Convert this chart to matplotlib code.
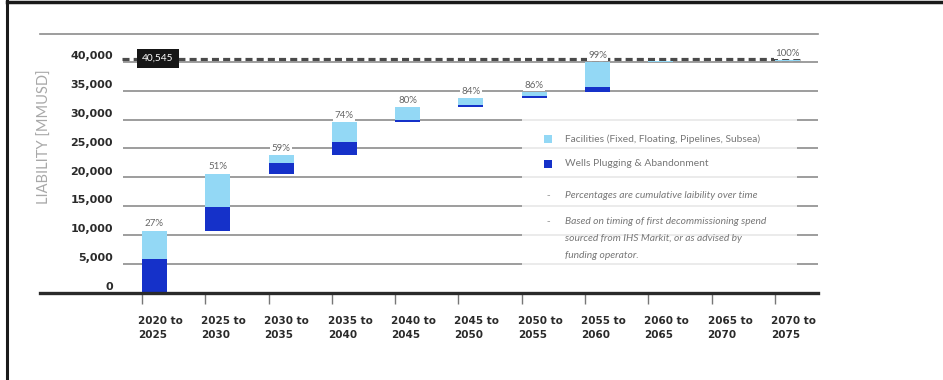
import matplotlib

matplotlib.use("Agg")
import matplotlib.pyplot as plt
from matplotlib.lines import Line2D
from matplotlib.patches import Rectangle
from matplotlib.transforms import blended_transform_factory

# dados (MMUSD)
periods = ["2020 to\n2025", "2025 to\n2030", "2030 to\n2035", "2035 to\n2040",
           "2040 to\n2045", "2045 to\n2050", "2050 to\n2055", "2055 to\n2060",
           "2060 to\n2065", "2065 to\n2070", "2070 to\n2075"]
wells = [5800, 4050, 1850, 2300, 400, 500, 500, 900, 0, 0, 0]
facilities = [4950, 5800, 1400, 3400, 2150, 1050, 550, 4300, 150, 0, 200]
pct_labels = ["27%", "51%", "59%", "74%", "80%", "84%", "86%", "99%", "", "", "100%"]
total = 40545
yticks = [0, 5000, 10000, 15000, 20000, 25000, 30000, 35000, 40000]
note_lines = ["Based on timing of first decommissioning spend",
              "sourced from IHS Markit, or as advised by",
              "funding operator."]

LIGHT = "#93d8f5"
DARK = "#1531c9"
GRID = "#8c8c8c"

W, H = 943, 380
fig = plt.figure(figsize=(W / 100, H / 100), dpi=100)
fig.patch.set_facecolor("white")

# moldura (recorte da página)
fig.add_artist(Line2D([7.5 / W, 7.5 / W], [0, 1], color="#1a1a1a", lw=2.2))
fig.add_artist(Line2D([7.5 / W, 1], [1 - 1.5 / H, 1 - 1.5 / H], color="#1a1a1a", lw=2.5))

ax = fig.add_axes([40 / W, 87 / H, 778 / W, 259 / H])
ax.set_xlim(-1.611, 10.68)
ax.set_ylim(0, 44800)

for s in ("left", "right"):
    ax.spines[s].set_visible(False)
ax.spines["top"].set_color(GRID)
ax.spines["top"].set_linewidth(1.2)
ax.spines["bottom"].set_color("#2a2a2a")
ax.spines["bottom"].set_linewidth(2.4)
ax.spines["bottom"].set_zorder(6)

# grade
ax.hlines(yticks[1:], -0.30, 10.68, color=GRID, lw=1.2, zorder=1)

# barras em cascata
width = 0.395
x = list(range(len(periods)))
base = 0
tops = []
for i in x:
    ax.bar(i, wells[i], width=width, bottom=base, color=DARK, align="edge", zorder=4)
    ax.bar(i, facilities[i], width=width, bottom=base + wells[i], color=LIGHT,
           align="edge", zorder=4)
    base += wells[i] + facilities[i]
    tops.append(base)

# linha do total
ax.hlines(total, -0.32, x[-1] + width, color="#4a4a4a", lw=2.3,
          linestyles=(0, (2.2, 1.3)), zorder=2)
ax.text(0.25, total, f"{total:,}", ha="center", va="center", color="white",
        fontsize=7.3, family="Lato", zorder=7,
        bbox=dict(boxstyle="square,pad=0.5", fc="#161616", ec="none"))

for i in x:
    if pct_labels[i]:
        ax.annotate(pct_labels[i], (i + width / 2, tops[i]), xytext=(0, 5),
                    textcoords="offset points", ha="center", va="center",
                    fontsize=7, family="Lato", color="#666666", zorder=7,
                    bbox=dict(boxstyle="square,pad=0.15", fc="white", ec="none"))

# rótulos do eixo y
ty = blended_transform_factory(ax.transAxes, ax.transData)
for v in yticks:
    ax.text((113 - 40) / 778, v + 150, f"{v:,}", transform=ty, ha="right", va="bottom",
            fontsize=8, fontweight="bold", color="#2a2a2a")

ax.set_yticks([])
ax.set_xticks(x)
ax.set_xticklabels([])
ax.tick_params(axis="x", length=8, width=1, color="#777777", direction="out", pad=0)

tx = blended_transform_factory(ax.transData, ax.transAxes)
for i in x:
    ax.text(i - 0.065, -23 / 259, periods[i], transform=tx, ha="left", va="top",
            fontsize=7.5, fontweight="bold", color="#2a2a2a", linespacing=1.45)

fig.text(45 / W, 1 - 137 / H, "LIABILITY [MMUSD]", rotation=90, ha="center",
         va="center", fontsize=10.5, family="Lato", color="#a8a8a8")

# legenda
fig.add_artist(Rectangle((522 / W, 1 - 268 / H), 275 / W, 150 / H,
                         transform=fig.transFigure, fc="white", ec="none",
                         alpha=0.8, zorder=3))
for yy, col, txt in [(139, LIGHT, "Facilities (Fixed, Floating, Pipelines, Subsea)"),
                     (164, DARK, "Wells Plugging & Abandonment")]:
    fig.add_artist(Rectangle((544 / W, 1 - (yy + 4) / H), 8 / W, 8 / H,
                             transform=fig.transFigure, fc=col, ec="none", zorder=4))
    fig.text(565 / W, 1 - yy / H, txt, ha="left", va="center", fontsize=7.4,
             family="Lato", color="#777777", zorder=5)

fig.text(548 / W, 1 - 195 / H, "-", ha="center", va="center", fontsize=7,
         color="#999999", zorder=5)
fig.text(565 / W, 1 - 195 / H, "Percentages are cumulative laibility over time",
         ha="left", va="center", fontsize=7.4, family="Lato", style="italic",
         color="#777777", zorder=5)
fig.text(548 / W, 1 - 221 / H, "-", ha="center", va="center", fontsize=7,
         color="#999999", zorder=5)
for k, line in enumerate(note_lines):
    fig.text(565 / W, 1 - (221 + 17.5 * k) / H, line, ha="left", va="center",
             fontsize=7.4, family="Lato", style="italic", color="#777777", zorder=5)

fig.savefig("out.png", dpi=100)
